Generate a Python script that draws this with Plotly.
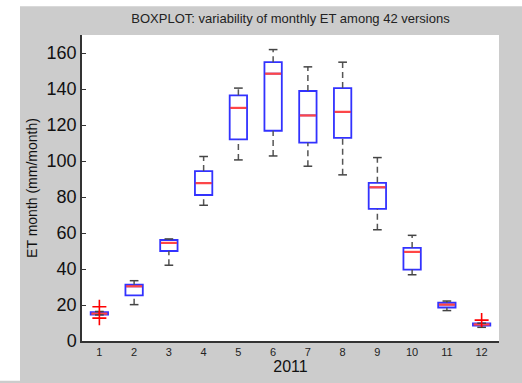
import plotly.graph_objects as go

months = [1, 2, 3, 4, 5, 6, 7, 8, 9, 10, 11, 12]
q1 = [14.7, 25.4, 50.0, 81.1, 112.0, 116.8, 110.2, 112.8, 73.4, 39.7, 18.6, 8.5]
med = [15.2, 30.4, 54.5, 87.7, 129.5, 148.5, 125.3, 127.3, 85.4, 49.5, 20.2, 9.2]
q3 = [16.0, 31.3, 56.1, 94.4, 136.5, 154.9, 138.9, 140.5, 87.9, 51.7, 21.3, 9.8]
lo = [14.5, 20.2, 42.1, 75.4, 100.6, 102.8, 97.1, 92.3, 61.8, 36.8, 16.9, 7.6]
hi = [16.4, 33.5, 56.7, 102.5, 140.5, 161.9, 152.3, 154.9, 101.9, 58.7, 22.2, 9.9]
out_x = [1, 1, 12]
out_y = [19.0, 12.7, 11.6]

BOXW = 0.5
CAPW = 0.25

fig = go.Figure()

# whiskers (dashed)
wx, wy = [], []
for m, a, b, c, d in zip(months, lo, q1, q3, hi):
    wx += [m, m, None, m, m, None]
    wy += [a, b, None, c, d, None]
fig.add_trace(go.Scatter(x=wx, y=wy, mode="lines",
                         line=dict(color="#555555", width=1.5, dash="6px,4px"),
                         hoverinfo="skip"))

# boxes
fig.add_trace(go.Box(x=months, q1=q1, median=med, q3=q3,
                     lowerfence=q1, upperfence=q3,
                     width=BOXW, whiskerwidth=0,
                     fillcolor="white",
                     line=dict(color="rgb(50,50,255)", width=1.8),
                     boxpoints=False))

# medians
mx, my = [], []
for m, v in zip(months, med):
    mx += [m - BOXW / 2 + 0.02, m + BOXW / 2 - 0.02, None]
    my += [v, v, None]
fig.add_trace(go.Scatter(x=mx, y=my, mode="lines",
                         line=dict(color="rgb(255,70,70)", width=2.2),
                         hoverinfo="skip"))

# caps
cx, cy = [], []
for m, a, d in zip(months, lo, hi):
    cx += [m - CAPW / 2, m + CAPW / 2, None, m - CAPW / 2, m + CAPW / 2, None]
    cy += [a, a, None, d, d, None]
fig.add_trace(go.Scatter(x=cx, y=cy, mode="lines",
                         line=dict(color="#444444", width=1.5),
                         hoverinfo="skip"))

# outliers
fig.add_trace(go.Scatter(x=out_x, y=out_y, mode="markers",
                         marker=dict(symbol="cross-thin-open", size=10, color="red",
                                     line=dict(color="red", width=1.6)),
                         hoverinfo="skip"))

W, H = 522, 383
L, R, T, B = 82, 23, 35, 40
pw, ph = W - L - R, H - T - B

fig.update_layout(
    width=W, height=H,
    margin=dict(l=L, r=R, t=T, b=B, pad=0),
    paper_bgcolor="#cccccc",
    plot_bgcolor="white",
    showlegend=False,
    font=dict(family="Liberation Sans, Arial, sans-serif", color="#111111"),
    title=dict(text="BOXPLOT: variability of monthly ET among 42 versions",
               x=(L + pw / 2) / W, xanchor="center",
               y=1 - 18 / H, yanchor="middle",
               font=dict(size=13, color="#222222")),
    xaxis=dict(range=[0.5, 12.5], tickmode="array", tickvals=months,
               ticktext=[str(m) for m in months],
               tickfont=dict(size=11, color="#222222"),
               showgrid=False, zeroline=False,
               showline=True, linecolor="#333333", linewidth=1.5,
               ticks="", title=dict(text="2011", font=dict(size=16), standoff=2)),
    yaxis=dict(range=[0, 170], tickmode="array",
               tickvals=[0, 20, 40, 60, 80, 100, 120, 140, 160],
               tickfont=dict(size=18, color="#111111"),
               showgrid=False, zeroline=False,
               showline=True, linecolor="#333333", linewidth=1.5,
               ticks="inside", ticklen=4, tickcolor="#333333",
               title=dict(text="ET month (mm/month)", font=dict(size=14), standoff=6)),
    shapes=[
        dict(type="rect", xref="paper", yref="paper",
             x0=-L / pw, x1=(20 - L) / pw, y0=-B / ph, y1=(H - B) / ph + 0.2,
             fillcolor="white", line=dict(width=0), layer="above"),
        dict(type="rect", xref="paper", yref="paper",
             x0=-L / pw, x1=(W - L) / pw + 0.1, y0=(H - B - 6) / ph, y1=(H - B) / ph + 0.2,
             fillcolor="white", line=dict(width=0), layer="above"),
    ],
)

fig.write_html("out.html")
